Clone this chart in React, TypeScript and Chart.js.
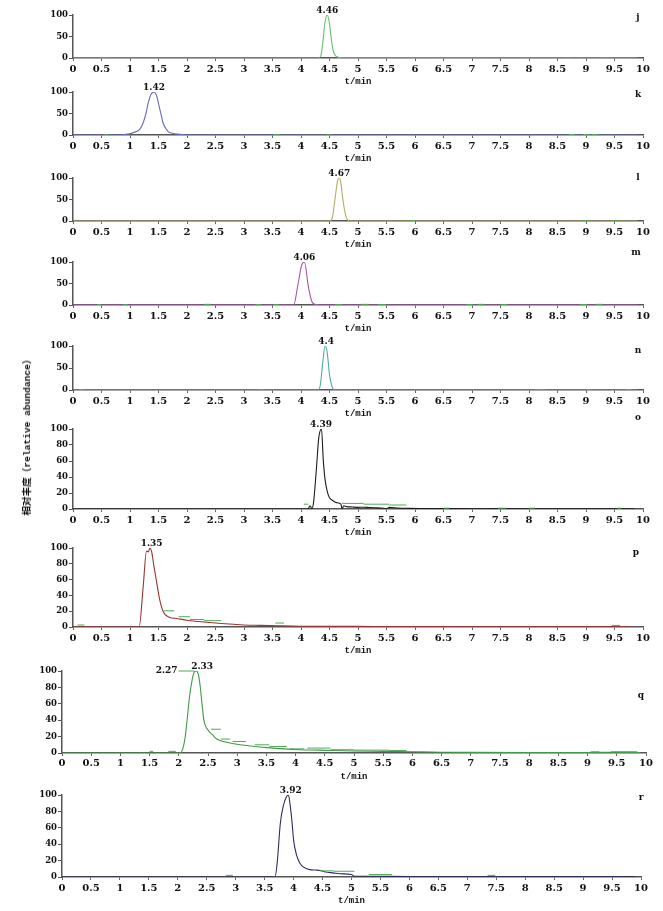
import React, { useEffect, useRef } from "react";
import { Chart, registerables } from "chart.js";

Chart.register(...registerables);

// ---------- shared axis texts / ticks ----------
const timeTicks = [0, 0.5, 1, 1.5, 2, 2.5, 3, 3.5, 4, 4.5, 5, 5.5, 6, 6.5, 7, 7.5, 8, 8.5, 9, 9.5, 10];
const abundanceTicksShort = [0, 50, 100];
const abundanceTicksLong = [0, 20, 40, 60, 80, 100];
const xTitle = "t/min";
const yTitle = "相对丰度（relative abundance）";

// ---------- panel j ----------
const jTime = [0, 4.3, 4.35, 4.39, 4.42, 4.46, 4.5, 4.53, 4.57, 4.63, 4.72, 9.9];
const jAbund = [0, 0, 6, 45, 82, 100, 80, 45, 14, 3, 0.5, 0];
const jDashes = [[0.48, 0.58, 1.2], [5.35, 5.5, 0.8], [7.9, 8.0, 0.8], [8.6, 8.72, 1], [8.85, 8.95, 0.8], [9.25, 9.4, 1]];
const jPeaks = [{ t: 4.46, text: "4.46" }];

// ---------- panel k ----------
const kTime = [0, 0.85, 0.95, 1.06, 1.17, 1.23, 1.28, 1.32, 1.37, 1.42, 1.47, 1.51, 1.55, 1.58, 1.63, 1.67, 1.75, 1.82, 1.95, 2.4, 9.9];
const kAbund = [0, 0, 2, 5.5, 13, 28, 50, 75, 95, 100, 90, 67, 45, 28, 15, 8, 4, 2, 0.7, 0, 0];
const kDashes = [[0.55, 0.62, 1], [3.52, 3.62, 1], [4.45, 4.52, 1], [8.7, 8.8, 1], [8.95, 9.05, 1], [9.1, 9.2, 1]];
const kPeaks = [{ t: 1.42, text: "1.42" }];

// ---------- panel l ----------
const lTime = [0, 4.5, 4.55, 4.6, 4.64, 4.67, 4.7, 4.74, 4.79, 4.86, 9.9];
const lAbund = [0, 0, 8, 55, 92, 100, 88, 45, 10, 0, 0];
const lDashes = [[5.9, 6.0, 0.7], [8.95, 9.05, 0.7], [9.45, 9.55, 0.7]];
const lPeaks = [{ t: 4.67, text: "4.67" }];

// ---------- panel m ----------
const mTime = [0, 3.87, 3.95, 4.01, 4.06, 4.13, 4.19, 4.25, 4.35, 9.9];
const mAbund = [0, 0, 50, 92, 100, 42, 8, 1.5, 0, 0];
const mDashes = [[0.42, 0.5, 1.2], [0.88, 0.96, 0.8], [2.3, 2.42, 1.5], [3.2, 3.3, 1.2], [3.52, 3.62, 1.2], [4.6, 4.72, 1.2], [5.05, 5.19, 1.5], [5.35, 5.49, 1.2], [6.9, 7.02, 1.2], [7.1, 7.22, 1.5], [7.5, 7.62, 1.2], [8.9, 9.02, 1.2], [9.18, 9.3, 1.5]];
const mPeaks = [{ t: 4.06, text: "4.06" }];

// ---------- panel n ----------
const nTime = [0, 4.3, 4.34, 4.38, 4.42, 4.46, 4.5, 4.55, 4.6, 9.9];
const nAbund = [0, 0, 12, 60, 100, 85, 35, 6, 0, 0];
const nDashes = [[0.1, 0.2, 1], [3.25, 3.35, 0.8], [8.1, 8.3, 0.8], [9.0, 9.1, 0.8], [9.7, 9.8, 0.8]];
const nPeaks = [{ t: 4.44, text: "4.4" }];

// ---------- panel o ----------
const oTime = [0, 4.12, 4.16, 4.19, 4.22, 4.27, 4.31, 4.36, 4.39, 4.42, 4.46, 4.5, 4.55, 4.62, 4.7, 4.72, 4.75, 4.8, 4.9, 5.0, 5.1, 5.2, 5.3, 5.45, 5.5, 5.55, 5.7, 5.9, 6.2, 6.6, 7.0, 7.5, 8.0, 8.5, 9.0, 9.5, 9.85];
const oAbund = [0, 0, 4, 0.5, 8, 50, 88, 100, 62, 38, 22, 14, 11, 8, 6, 0.5, 4, 3, 2.5, 2, 2.2, 1.8, 1.5, 1, 0, 2, 1.2, 0.8, 0.5, 0.6, 0.3, 0.5, 0.3, 0.4, 0.3, 0.4, 0.3];
const oDashes = [[4.05, 4.13, 6], [4.72, 5.1, 7], [5.1, 5.55, 6], [5.55, 5.85, 5], [6.5, 6.6, 1], [7.45, 7.6, 1], [8.0, 8.1, 1], [9.55, 9.62, 1]];
const oPeaks = [{ t: 4.35, text: "4.39" }];

// ---------- panel p ----------
const pTime = [0, 1.16, 1.23, 1.29, 1.32, 1.35, 1.38, 1.42, 1.46, 1.52, 1.58, 1.7, 1.8, 2.0, 2.2, 2.35, 2.6, 2.81, 3.0, 3.28, 3.6, 3.98, 4.5, 5.0, 5.5, 6.0, 7.0, 8.0, 9.0, 9.8];
const pAbund = [0, 0, 50, 96, 95, 100, 95, 77, 60, 35, 20, 12, 11, 8.5, 7, 6, 4.5, 3.4, 2.5, 2, 1.5, 1, 0.8, 0.8, 0.5, 0.5, 0.4, 0.3, 0.3, 0.3];
const pDashes = [[0.08, 0.2, 2.5], [1.6, 1.78, 20.5], [1.85, 2.05, 13], [2.05, 2.3, 9.5], [2.3, 2.6, 8], [3.55, 3.7, 5], [9.45, 9.6, 2]];
const pPeaks = [{ t: 1.38, text: "1.35" }];

// ---------- panel q ----------
const qTime = [0, 2.02, 2.1, 2.19, 2.25, 2.29, 2.33, 2.36, 2.43, 2.5, 2.58, 2.65, 2.82, 3.05, 3.3, 3.5, 3.8, 4.08, 4.4, 4.64, 5.0, 5.5, 6.0, 6.5, 7.0, 8.0, 9.0, 9.5, 9.9];
const qAbund = [0, 0, 15, 72, 96, 100, 97, 85, 40, 28, 22, 17, 13, 10, 8, 6.5, 5, 4, 3.5, 3, 2.5, 2, 1.5, 1, 0.8, 0.6, 0.6, 1, 0.5];
const qDashes = [[1.5, 1.56, 2], [1.82, 1.95, 2], [2.55, 2.72, 29], [2.72, 2.88, 17], [2.92, 3.15, 14], [3.3, 3.55, 10], [3.55, 3.85, 8], [3.9, 4.15, 5], [4.2, 4.6, 6], [4.6, 5.0, 4], [5.0, 5.6, 3.5], [5.6, 5.9, 3], [9.05, 9.2, 1.5], [9.4, 9.85, 1.5]];
const qPeaks = [{ t: 2.27, text: "2.27", leaderFrom: 1.98 }, { t: 2.4, text: "2.33" }];

// ---------- panel r ----------
const rTime = [0, 3.68, 3.72, 3.77, 3.82, 3.87, 3.91, 3.94, 3.97, 4.0, 4.05, 4.1, 4.14, 4.2, 4.28, 4.38, 4.46, 4.55, 4.68, 4.8, 5.0, 5.05, 5.3, 5.6, 6.0, 7.0, 8.0, 9.0, 9.9];
const rAbund = [0, 0, 20, 65, 86, 97, 100, 88, 69, 45, 27, 18, 14, 11, 9, 8.5, 8, 6, 5, 4, 3, 1, 1, 0.8, 0.6, 0.5, 0.5, 0.5, 0.5];
const rDashes = [[2.83, 2.95, 2], [4.45, 4.7, 7.5], [4.7, 5.05, 7], [5.3, 5.7, 3], [7.35, 7.48, 2]];
const rPeaks = [{ t: 3.95, text: "3.92" }];

// ---------- layout / style (not data) ----------
const DASH_COLOR = "#4fa955";
const PAD_TOP = 14;
const X_AXIS_H = 29;

const panels = [
  { letter: "j", time: jTime, abund: jAbund, dashes: jDashes, peaks: jPeaks, yTicks: abundanceTicksShort, color: "#6cbb74", left: 73, right: 643, top: 15, bottom: 58, letterX: 638, letterY: 18, tickPad: 2 },
  { letter: "k", time: kTime, abund: kAbund, dashes: kDashes, peaks: kPeaks, yTicks: abundanceTicksShort, color: "#6a6db5", left: 73, right: 643, top: 92, bottom: 135, letterX: 638, letterY: 95, tickPad: 2 },
  { letter: "l", time: lTime, abund: lAbund, dashes: lDashes, peaks: lPeaks, yTicks: abundanceTicksShort, color: "#b3ad6c", left: 73, right: 643, top: 178, bottom: 221, letterX: 638, letterY: 178, tickPad: 2 },
  { letter: "m", time: mTime, abund: mAbund, dashes: mDashes, peaks: mPeaks, yTicks: abundanceTicksShort, color: "#a257a8", left: 73, right: 643, top: 262, bottom: 305, letterX: 636, letterY: 253, tickPad: 2 },
  { letter: "n", time: nTime, abund: nAbund, dashes: nDashes, peaks: nPeaks, yTicks: abundanceTicksShort, color: "#4fada5", left: 73, right: 643, top: 346, bottom: 390, letterX: 638, letterY: 351, tickPad: 2 },
  { letter: "o", time: oTime, abund: oAbund, dashes: oDashes, peaks: oPeaks, yTicks: abundanceTicksLong, color: "#1c1c1c", left: 73, right: 643, top: 429, bottom: 509, letterX: 638, letterY: 418, tickPad: 2 },
  { letter: "p", time: pTime, abund: pAbund, dashes: pDashes, peaks: pPeaks, yTicks: abundanceTicksLong, color: "#9b3534", left: 73, right: 643, top: 548, bottom: 627, letterX: 636, letterY: 553, tickPad: 2 },
  { letter: "q", time: qTime, abund: qAbund, dashes: qDashes, peaks: qPeaks, yTicks: abundanceTicksLong, color: "#3f9a45", left: 62, right: 646, top: 671, bottom: 753, letterX: 641, letterY: 696, tickPad: 1 },
  { letter: "r", time: rTime, abund: rAbund, dashes: rDashes, peaks: rPeaks, yTicks: abundanceTicksLong, color: "#2c2f5c", left: 62, right: 641, top: 795, bottom: 877, letterX: 641, letterY: 798, tickPad: 2 },
];

const annotPlugin = {
  id: "annot",
  afterDatasetsDraw(chart: any, _args: any, opts: any) {
    const { ctx, scales } = chart;
    const x = scales.x;
    const y = scales.y;
    ctx.save();
    ctx.font = 'bold 9px "DejaVu Serif"';
    ctx.fillStyle = "#111";
    for (const p of opts.peaks) {
      const px = x.getPixelForValue(p.t);
      const py = y.getPixelForValue(100);
      if (p.leaderFrom != null) {
        const lx = x.getPixelForValue(p.leaderFrom);
        ctx.strokeStyle = DASH_COLOR;
        ctx.lineWidth = 1;
        ctx.beginPath();
        ctx.moveTo(lx + 1, py);
        ctx.lineTo(px, py);
        ctx.stroke();
        ctx.textAlign = "right";
        ctx.textBaseline = "middle";
        ctx.fillText(p.text, lx, py);
      } else {
        ctx.textAlign = "center";
        ctx.textBaseline = "bottom";
        ctx.fillText(p.text, px, py);
      }
    }
    ctx.textAlign = "center";
    ctx.textBaseline = "middle";
    ctx.fillText(opts.letter, opts.letterX, opts.letterY);
    ctx.restore();
  },
};

function Panel({ cfg }: { cfg: any }) {
  const ref = useRef<HTMLCanvasElement>(null);
  const height = PAD_TOP + (cfg.bottom - cfg.top) + X_AXIS_H;
  const canvasTop = cfg.top - PAD_TOP;

  useEffect(() => {
    if (!ref.current) return;
    const main = cfg.time.map((t: number, i: number) => ({ x: t, y: cfg.abund[i] }));
    const dash: any[] = [];
    cfg.dashes.forEach(([a, b, v]: number[]) => {
      dash.push({ x: a, y: v }, { x: b, y: v }, { x: b, y: null });
    });
    const tickFont = { family: '"DejaVu Serif", serif', weight: "bold" as const, size: 10 };
    const chart = new Chart(ref.current, {
      type: "line",
      data: {
        datasets: [
          { data: dash, borderColor: DASH_COLOR, borderWidth: 1, pointRadius: 0, spanGaps: false, tension: 0 },
          { data: main, borderColor: cfg.color, borderWidth: 1.1, pointRadius: 0, cubicInterpolationMode: "monotone" },
        ],
      },
      options: {
        animation: false,
        responsive: false,
        events: [],
        layout: { padding: { left: 0, right: 663 - cfg.right, top: PAD_TOP, bottom: 0 } },
        plugins: {
          legend: { display: false },
          tooltip: { enabled: false },
          annot: { peaks: cfg.peaks, letter: cfg.letter, letterX: cfg.letterX, letterY: cfg.letterY - canvasTop },
        } as any,
        scales: {
          x: {
            type: "linear",
            min: 0,
            max: 10,
            afterBuildTicks: (s: any) => {
              s.ticks = timeTicks.map((v) => ({ value: v }));
            },
            afterFit: (s: any) => {
              s.height = X_AXIS_H;
            },
            ticks: { autoSkip: false, maxRotation: 0, padding: cfg.tickPad, font: tickFont, color: "#111", callback: (v: any) => String(v) },
            grid: { display: true, drawOnChartArea: false, drawTicks: true, tickLength: 3, color: "#666", lineWidth: 1 },
            border: { display: true, color: "#555", width: 1.5 },
            title: { display: true, text: xTitle, color: "#111", padding: 0, font: { family: '"Liberation Mono", monospace', weight: "bold", size: 9 } },
          },
          y: {
            type: "linear",
            min: 0,
            max: 100,
            afterBuildTicks: (s: any) => {
              s.ticks = cfg.yTicks.map((v: number) => ({ value: v }));
            },
            afterFit: (s: any) => {
              s.width = cfg.left;
            },
            ticks: { padding: 1, font: { ...tickFont, size: 8.5 }, color: "#111", callback: (v: any) => String(v) },
            grid: { display: true, drawOnChartArea: false, drawTicks: true, tickLength: 4, color: "#555", lineWidth: 1 },
            border: { display: true, color: "#555", width: 1.5 },
          },
        },
      },
      plugins: [annotPlugin],
    } as any);
    return () => chart.destroy();
  }, [cfg]);

  return (
    <canvas
      ref={ref}
      width={663}
      height={height}
      style={{ position: "absolute", left: 0, top: canvasTop, width: 663, height }}
    />
  );
}

export default function App() {
  return (
    <div style={{ position: "absolute", left: 0, top: 0, width: 663, height: 911, background: "#fff", overflow: "hidden" }}>
      {panels.map((p) => (
        <Panel key={p.letter} cfg={p} />
      ))}
      <div
        style={{
          position: "absolute",
          left: 26,
          top: 435,
          transform: "translate(-50%, -50%) rotate(-90deg)",
          whiteSpace: "nowrap",
          font: 'bold 9.6px "Liberation Mono", "Noto Sans CJK SC", monospace',
          color: "#111",
        }}
      >
        {yTitle}
      </div>
    </div>
  );
}
